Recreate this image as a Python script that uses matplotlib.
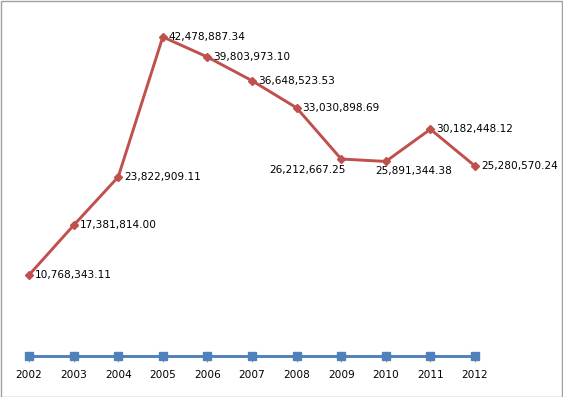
import matplotlib
matplotlib.use('agg')
import matplotlib.pyplot as plt
from matplotlib.patches import Rectangle

years = ['2002', '2003', '2004', '2005', '2006', '2007', '2008', '2009', '2010', '2011', '2012']
amounts = [10768343.11, 17381814.00, 23822909.11, 42478887.34, 39803973.10, 36648523.53,
           33030898.69, 26212667.25, 25891344.38, 30182448.12, 25280570.24]
# second series is just the year column, which sits on the zero line at this scale
year_series = [2002, 2003, 2004, 2005, 2006, 2007, 2008, 2009, 2010, 2011, 2012]

W, H = 563, 397
fig = plt.figure(figsize=(W / 100, H / 100), dpi=100)
# plot area in pixels: x from 6.7 to 497.3, y zero at 355.8, top at 18
ax = fig.add_axes([6.7 / W, (H - 355.8) / H, 490.6 / W, 337.8 / H])
x = list(range(len(years)))

ax.plot(x, amounts, color='#C0504D', linewidth=2.1, marker='D', markersize=4.5, zorder=3)
ax.plot(x, year_series, color='#4F81BD', linewidth=2.1, marker='s', markersize=5.5, zorder=4,
        clip_on=False)

fs = 7.6
for i, v in enumerate(amounts):
    lab = f'{v:,.2f}'
    if i == 7:
        ax.annotate(lab, (i, v), xytext=(4, -11), textcoords='offset pixels',
                    ha='right', va='center', fontsize=fs)
    elif i == 8:
        ax.annotate(lab, (i, v), xytext=(-11, -10), textcoords='offset pixels',
                    ha='left', va='center', fontsize=fs)
    else:
        ax.annotate(lab, (i, v), xytext=(6, 0), textcoords='offset pixels',
                    ha='left', va='center', fontsize=fs)

ax.set_xlim(-0.5, len(years) - 0.5)
ax.set_ylim(0, 45e6)
ax.set_xticks(x)
ax.set_xticklabels(years, fontsize=fs)
ax.set_yticks([])
ax.tick_params(axis='x', length=4, width=0.8, color='#a0a0a0', pad=6)
for s in ax.spines.values():
    s.set_visible(False)

fig.patches.append(Rectangle((0.5 / W, 0.5 / H), 1 - 1.5 / W, 1 - 1.5 / H,
                             transform=fig.transFigure, fill=False,
                             edgecolor='#a0a0a0', linewidth=1))

fig.savefig('out.png', dpi=100)
